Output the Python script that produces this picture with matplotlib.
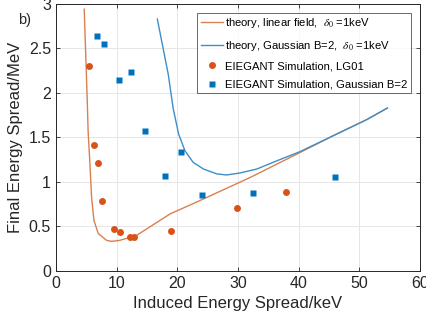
import matplotlib
matplotlib.use("Agg")
import matplotlib.pyplot as plt

plt.rcParams['font.family'] = ['Liberation Sans', 'DejaVu Sans']
plt.rcParams['mathtext.fontset'] = 'stix'

# theory curves
lin_x = [4.66, 5.16, 5.3, 5.6, 5.87, 6.26, 6.97, 8.35, 9.17, 10.5, 13.3, 18.8, 23.7, 32.0, 40.2, 45.7, 51.2, 54.6]
lin_y = [2.94, 1.91, 1.57, 1.20, 0.83, 0.567, 0.42, 0.343, 0.332, 0.343, 0.40, 0.64, 0.79, 1.05, 1.33, 1.52, 1.70, 1.83]

gau_x = [16.7, 17.6, 18.5, 19.3, 20.2, 21.25, 22.6, 24.3, 26.5, 28.1, 30.3, 33.1, 36.5, 40.2, 45.7, 51.2, 54.6]
gau_y = [2.83, 2.52, 2.21, 1.83, 1.54, 1.35, 1.22, 1.145, 1.09, 1.078, 1.10, 1.145, 1.24, 1.34, 1.52, 1.70, 1.83]

# simulation points
lg_x = [5.45, 6.26, 6.9, 7.58, 9.6, 10.5, 12.2, 12.85, 18.9, 29.9, 37.9]
lg_y = [2.30, 1.41, 1.21, 0.78, 0.466, 0.436, 0.38, 0.38, 0.45, 0.705, 0.89]

gb_x = [6.8, 7.85, 10.4, 12.4, 14.7, 20.6, 17.9, 24.1, 32.5, 45.9]
gb_y = [2.64, 2.55, 2.14, 2.23, 1.57, 1.34, 1.07, 0.85, 0.87, 1.06]

labels = [r'theory, linear field,  $\delta_0$ =1keV',
          r'theory, Gaussian B=2,  $\delta_0$ =1keV',
          'EIEGANT Simulation, LG01',
          'EIEGANT Simulation, Gaussian B=2']

orange = '#D95319'
blue = '#0072BD'

fig = plt.figure(figsize=(4.27, 3.26), dpi=100)
ax = fig.add_axes([0.131, 0.169, 0.853, 0.819])

ax.plot(lin_x, lin_y, color='#D9804F', lw=1.0, label=labels[0])
ax.plot(gau_x, gau_y, color='#3D8FC9', lw=1.0, label=labels[1])
ax.plot(lg_x, lg_y, 'o', color=orange, ms=5, mec='none', label=labels[2])
ax.plot(gb_x, gb_y, 's', color=blue, ms=4.2, mec='none', label=labels[3])

ax.set_xlim(0, 60)
ax.set_ylim(0, 3)
ax.set_xticks([0, 10, 20, 30, 40, 50, 60])
ax.set_yticks([0, 0.5, 1, 1.5, 2, 2.5, 3])
ax.set_yticklabels(['0', '0.5', '1', '1.5', '2', '2.5', '3'])
ax.grid(True, color='#E6E6E6', lw=0.7)
ax.set_axisbelow(True)
ax.tick_params(direction='in', top=True, right=True, labelsize=11.5,
               colors='#262626', length=3, width=0.6)
for s in ax.spines.values():
    s.set_color('#262626')
    s.set_linewidth(0.7)

ax.set_xlabel('Induced Energy Spread/keV', fontsize=12, color='#262626')
ax.set_ylabel('Final Energy Spread/MeV', fontsize=12, color='#262626')

leg = ax.legend(loc='upper right', fontsize=8.1, frameon=True, fancybox=False,
                edgecolor='#262626', handlelength=2.0, handletextpad=0.2,
                borderaxespad=0.8, labelspacing=0.75, borderpad=0.3)
leg.get_frame().set_linewidth(0.6)

fig.text(0.042, 0.925, 'b)', fontsize=10.5, color='#262626')

fig.savefig('out.png', dpi=100)
